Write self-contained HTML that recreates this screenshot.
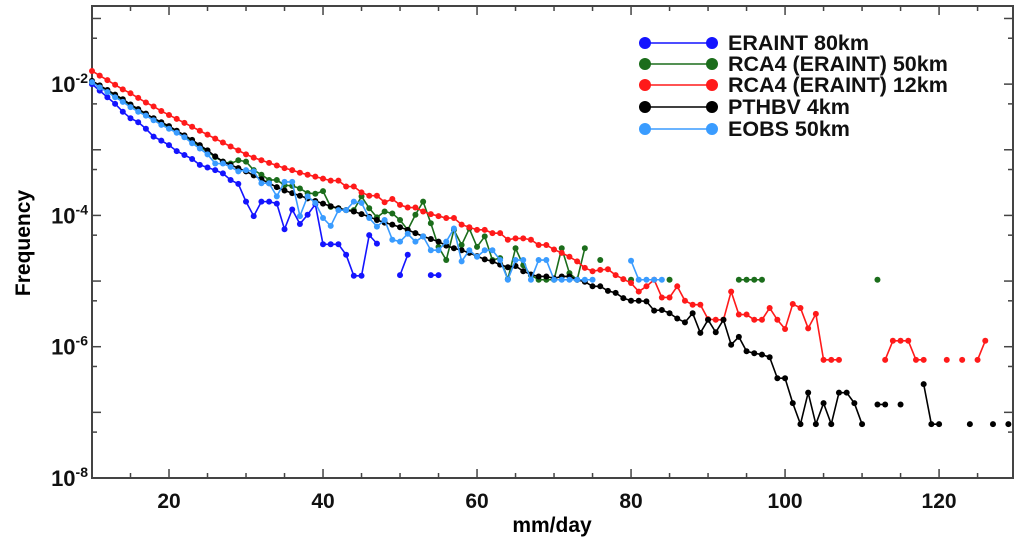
<!DOCTYPE html>
<html><head><meta charset="utf-8">
<style>
html,body{margin:0;padding:0;background:#fff;}
svg{display:block;font-family:"Liberation Sans",sans-serif;font-weight:bold;}
</style></head>
<body>
<svg id="chart" width="1024" height="548" viewBox="0 0 1024 548" xmlns="http://www.w3.org/2000/svg">
<g id="axes"></g>
<g id="series"></g>
<g id="legend"></g>
<text x="552" y="532" font-size="21" text-anchor="middle">mm/day</text>
<text x="0" y="0" font-size="21" text-anchor="middle" transform="translate(30,243) rotate(-90)">Frequency</text>
</svg>
<script>
// x categories: mm/day from 10 to 129 (step 1); values are log10(frequency), null = no point
const xStart = 10;
const xTicks = [20, 40, 60, 80, 100, 120];
const yTickExps = [-2, -4, -6, -8];
const seriesNames = ["ERAINT 80km", "RCA4 (ERAINT) 50km", "RCA4 (ERAINT) 12km", "PTHBV 4km", "EOBS 50km"];
const seriesColors = ["#1414ff", "#1b6d1b", "#ff1a1a", "#000000", "#3a9cff"];

const eraint = [-2.00,-2.10,-2.20,-2.30,-2.42,-2.52,-2.58,-2.68,-2.80,-2.86,-2.93,-3.02,-3.08,-3.14,
 -3.23,-3.27,-3.31,-3.36,-3.46,-3.52,-3.79,-4.01,-3.79,-3.79,-3.82,-4.21,-3.91,-4.13,-3.99,-3.83,
 -4.44,-4.44,-4.44,-4.60,-4.92,-4.92,-4.30,-4.43,null,null,-4.91,-4.60,null,null,-4.91,-4.91];

const rca50 = [-1.97,-2.04,-2.11,-2.18,-2.25,-2.32,-2.39,-2.46,-2.53,-2.60,-2.66,-2.73,-2.80,-2.87,-2.95,-3.03,-3.11,
 -3.18,-3.21,-3.16,-3.18,-3.31,-3.38,-3.46,-3.46,-3.54,-3.55,-3.59,-3.66,-3.67,-3.63,
 -3.87,-3.89,-3.92,-3.92,-3.71,-3.89,-4.03,-3.94,-3.97,-4.07,-4.22,-3.99,-3.79,
 -4.12,-4.48,-4.68,-4.22,-4.45,-4.20,-4.48,-4.32,-4.68,-4.65,-4.97,-4.50,-4.76,-4.91,-4.98,-4.98,-4.98,
 -4.50,-4.88,-4.98,-4.50,null,-4.68,null,null,null,-4.98,null,null,null,null,-4.98,
 null,null,null,null,null,null,null,null,-4.98,-4.98,-4.98,-4.98,
 null,null,null,null,null,null,null,null,null,null,null,null,null,null,-4.98];

const rca12 = [-1.80,-1.87,-1.94,-2.01,-2.08,-2.14,-2.21,-2.28,-2.34,-2.41,-2.47,-2.53,-2.59,-2.65,-2.71,-2.77,
 -2.83,-2.89,-2.95,-3.01,-3.07,-3.12,-3.16,-3.20,-3.24,-3.28,-3.31,-3.35,-3.38,-3.41,-3.44,
 -3.47,-3.47,-3.56,-3.56,-3.65,-3.70,-3.70,-3.80,-3.75,-3.84,-3.88,-3.88,-3.94,-3.98,-4.01,-4.04,-4.04,
 -4.14,-4.18,-4.22,-4.22,-4.27,-4.27,-4.37,-4.35,-4.35,-4.37,-4.45,-4.45,-4.52,-4.57,-4.63,-4.70,-4.80,-4.85,
 -4.83,-4.82,-4.91,-4.97,-5.03,-5.16,-5.08,-4.98,-5.25,-5.25,-5.08,-5.30,-5.36,-5.36,-5.58,-5.59,-5.59,
 -5.16,-5.51,-5.51,-5.59,-5.59,-5.41,-5.59,-5.73,-5.35,-5.41,-5.72,-5.50,-6.20,-6.20,-6.20,
 null,null,null,null,null,-6.20,-5.91,-5.91,-5.91,-6.20,-6.20,null,null,-6.20,null,-6.20,null,-6.20,-5.91];

const pthbv = [-1.95,-2.02,-2.09,-2.16,-2.23,-2.31,-2.38,-2.45,-2.52,-2.58,-2.64,-2.71,-2.78,-2.85,-2.93,-3.01,
 -3.10,-3.18,-3.23,-3.28,-3.33,-3.39,-3.45,-3.51,-3.57,-3.62,-3.66,-3.70,-3.74,-3.78,-3.82,
 -3.86,-3.89,-3.92,-3.94,-3.98,-4.02,-4.07,-4.11,-4.14,-4.18,-4.22,-4.27,-4.32,-4.36,-4.40,-4.46,-4.50,
 -4.53,-4.57,-4.62,-4.67,-4.70,-4.75,-4.79,-4.77,-4.85,-4.90,-4.93,-4.93,-4.96,-4.93,-4.93,-4.98,-5.01,-5.08,
 -5.08,-5.15,-5.18,-5.26,-5.30,-5.30,-5.31,-5.45,-5.44,-5.49,-5.57,-5.63,-5.49,-5.79,-5.59,-5.78,-5.59,
 -5.97,-5.85,-6.07,-6.10,-6.12,-6.16,-6.48,-6.48,-6.86,-7.18,-6.70,-7.18,-6.86,-7.18,-6.70,-6.70,-6.86,-7.18,
 null,-6.88,-6.88,null,-6.88,null,null,-6.57,-7.18,-7.18,null,null,null,-7.18,null,null,-7.18,null,-7.18];

const eobs = [-1.97,-2.05,-2.12,-2.20,-2.27,-2.35,-2.42,-2.48,-2.55,-2.62,-2.68,-2.74,-2.81,-2.90,
 -2.98,-3.07,-3.21,-3.21,-3.26,-3.33,-3.31,-3.33,-3.51,-3.51,-3.71,-3.49,-3.49,-4.01,-3.71,-3.81,
 -4.04,-4.16,-3.92,-3.92,-3.79,-3.81,-4.04,-4.17,-4.07,-4.37,-4.40,-4.28,-4.40,-4.32,-4.53,-4.53,
 -4.40,-4.20,-4.70,-4.53,-4.63,-4.53,-4.53,-4.68,-4.98,-4.68,-4.68,-4.98,-4.68,-4.68,-4.98,-4.98,
 -4.98,-4.98,-4.98,-4.98,null,null,null,null,-4.69,-4.98,-4.98,-4.98,-4.98];

const seriesData = [eraint, rca50, rca12, pthbv, eobs];

const NS = "http://www.w3.org/2000/svg";
const L = 92, R = 1013, T = 6, B = 478;
const xMin = 10, xMax = 129.6;
const yTopLog = -0.81, yBotLog = -8;
function xs(v){ return L + (v - xMin) / (xMax - xMin) * (R - L); }
function ys(lg){ return T + (yTopLog - lg) / (yTopLog - yBotLog) * (B - T); }
function mk(tag, attrs, parent){
  const e = document.createElementNS(NS, tag);
  for (const k in attrs) e.setAttribute(k, attrs[k]);
  parent.appendChild(e); return e;
}
const axes = document.getElementById('axes');
const frame = mk('rect', {x:L, y:T, width:R-L, height:B-T, fill:'none', stroke:'#444', 'stroke-width':2}, axes);


for (let v = 15; v < xMax; v += 5) {
  const major = v % 20 === 0;
  const len = major ? 9 : 5;
  const tb = mk('line', {x1:xs(v), x2:xs(v), y1:B, y2:B-len, stroke:'#444', 'stroke-width':1.5}, axes);
  
  
  const tt = mk('line', {x1:xs(v), x2:xs(v), y1:T, y2:T+len, stroke:'#444', 'stroke-width':1.5}, axes);
  
  
}
xTicks.forEach(v => {
  const t = mk('text', {x:xs(v), y:508, 'font-size':21, 'text-anchor':'middle', fill:'#111'}, axes);
  t.textContent = v;
  
  
});
for (let e = -1; e >= -8; e--) {
  [e, e - 0.301].forEach((lg, i) => {
    if (lg > yTopLog || lg < yBotLog) return;
    const len = i === 0 ? 9 : 5;
    const a = mk('line', {x1:L, x2:L+len, y1:ys(lg), y2:ys(lg), stroke:'#444', 'stroke-width':1.5}, axes);
    
    
    const b = mk('line', {x1:R, x2:R-len, y1:ys(lg), y2:ys(lg), stroke:'#444', 'stroke-width':1.5}, axes);
    
    
  });
}
yTickExps.forEach(e => {
  const t = mk('text', {x:88, y:ys(e)+8, 'font-size':22, 'text-anchor':'end', fill:'#111'}, axes);
  
  
  const a = document.createElementNS(NS, 'tspan'); a.textContent = '10'; t.appendChild(a);
  const s = document.createElementNS(NS, 'tspan');
  s.setAttribute('font-size', '14'); s.setAttribute('dy', '-9'); s.textContent = String(e);
  t.appendChild(s);
});

const sg = document.getElementById('series');
seriesData.forEach((arr, si) => {
  const g = mk('g', {}, sg);
  
  
  let seg = [];
  const segs = [];
  arr.forEach((v, i) => {
    if (v === null) { if (seg.length) segs.push(seg); seg = []; }
    else seg.push([xs(xStart + i), ys(v)]);
  });
  if (seg.length) segs.push(seg);
  segs.forEach(s => {
    if (s.length > 1) {
      const p = mk('polyline', {points:s.map(q => q.join(',')).join(' '), fill:'none', stroke:seriesColors[si], 'stroke-width':1.6}, g);
      
      
    }
  });
  arr.forEach((v, i) => {
    if (v === null) return;
    const c = mk('circle', {cx:xs(xStart + i), cy:ys(v), r:3, fill:seriesColors[si]}, g);
    
    
  });
});

const lg = document.getElementById('legend');
const rowY = [43, 64, 85, 107, 129];
seriesNames.forEach((n, i) => {
  const g = mk('g', {}, lg);
  
  
  mk('line', {x1:645, x2:712, y1:rowY[i], y2:rowY[i], stroke:seriesColors[i], 'stroke-width':1.6}, g);
  mk('circle', {cx:645, cy:rowY[i], r:6, fill:seriesColors[i]}, g);
  mk('circle', {cx:712, cy:rowY[i], r:6, fill:seriesColors[i]}, g);
  const t = mk('text', {x:728, y:rowY[i]+7, 'font-size':21.5, fill:'#111'}, g);
  t.textContent = n;
});
</script>
</body></html>
